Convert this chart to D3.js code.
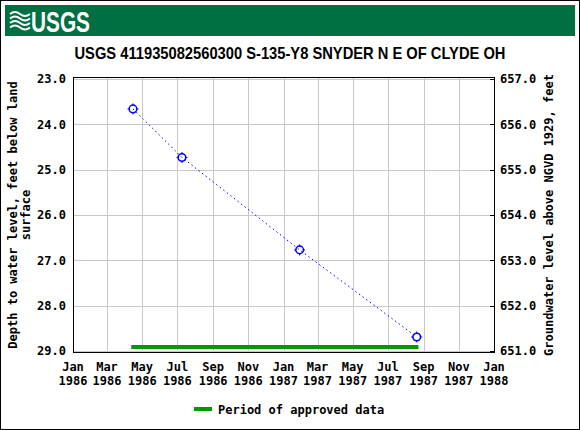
<!DOCTYPE html>
<html><head><meta charset="utf-8">
<script src="https://cdn.jsdelivr.net/npm/d3@7"></script>
<style>body{margin:0;background:#fff}svg{display:block}</style>
</head><body>
<svg id="c" width="580" height="430"></svg>
<script>
const title = "USGS 411935082560300 S-135-Y8 SNYDER N E OF CLYDE OH";
const sampleDates = ["1986-04-15", "1986-07-09", "1987-01-29", "1987-08-20"];
const depthValues = [23.66, 24.73, 26.77, 28.69];
const approvedPeriod = ["1986-04-12", "1987-08-23"];
const depthTicks = [23, 24, 25, 26, 27, 28, 29];
const elevTicks = [657, 656, 655, 654, 653, 652, 651];
const datumOffset = 680;
const xDomain = ["1986-01-01", "1988-01-01"];
const monthNames = ["Jan","Feb","Mar","Apr","May","Jun","Jul","Aug","Sep","Oct","Nov","Dec"];

const svg = d3.select("#c");
const mono = "'DejaVu Sans Mono', monospace";
const parse = d3.utcParse("%Y-%m-%d");

// frame
const L = 73, R = 495, T = 77, B = 353;
const x = d3.scaleUtc().domain(xDomain.map(parse)).range([73, 494]);
const y = d3.scaleLinear().domain([23, 29]).range([79, 351]);
const y2 = d3.scaleLinear().domain([657, 651]).range([79, 351]);

// outer border
svg.append("rect").attr("x",0.5).attr("y",0.5).attr("width",579).attr("height",429)
  .attr("fill","#fff").attr("stroke","#000");

// header
svg.append("rect").attr("x",5).attr("y",5).attr("width",570).attr("height",31).attr("fill","#006f41");
const logo = svg.append("g").attr("fill","none").attr("stroke","#fff").attr("stroke-width",2);
[0,1,2,3].forEach(i=>{
  logo.append("path").attr("d",`M10,${14+i*4.5} q5,-4 10,0 t10,0`);
});
svg.append("text").attr("x",31).attr("y",32).attr("fill","#fff")
  .attr("font-family","'Liberation Sans', Arial, sans-serif").attr("font-weight","bold")
  .attr("font-size",29).attr("textLength",59).attr("lengthAdjust","spacingAndGlyphs").text("USGS");

// title
svg.append("text").attr("x",290).attr("y",59).attr("text-anchor","middle")
  .attr("font-family","'Liberation Sans', Arial, sans-serif").attr("font-weight","bold")
  .attr("font-size",17).attr("textLength",431).attr("lengthAdjust","spacingAndGlyphs").text(title);

// grid
const xTicks = d3.utcMonth.every(2).range(parse(xDomain[0]), d3.utcDay.offset(parse(xDomain[1]),1));
const grid = svg.append("g").attr("stroke","#c8c8c8").attr("stroke-width",1);
xTicks.forEach(d=>{
  const px = Math.round(x(d))+0.5;
  grid.append("line").attr("x1",px).attr("x2",px).attr("y1",T).attr("y2",B);
});
depthTicks.forEach(v=>{
  const py = Math.round(y(v))+0.5;
  grid.append("line").attr("x1",L).attr("x2",R).attr("y1",py).attr("y2",py);
});

// frame
svg.append("rect").attr("x",L+0.5).attr("y",T+0.5).attr("width",R-L-1).attr("height",B-T-1)
  .attr("fill","none").attr("stroke","#000");

// right ticks
elevTicks.forEach(v=>{
  const py = Math.round(y2(v))+0.5;
  svg.append("line").attr("x1",R-5).attr("x2",R).attr("y1",py).attr("y2",py).attr("stroke","#000");
});

// y tick labels
const fmt = d3.format(".1f");
depthTicks.forEach(v=>{
  svg.append("text").attr("x",66).attr("y",y(v)).attr("dy","0.35em").attr("text-anchor","end")
    .attr("font-family",mono).attr("font-weight","bold").attr("font-size",12).text(fmt(v));
});
elevTicks.forEach(v=>{
  svg.append("text").attr("x",500).attr("y",y2(v)).attr("dy","0.35em").attr("text-anchor","start")
    .attr("font-family",mono).attr("font-weight","bold").attr("font-size",12).text(fmt(v));
});

// x tick labels
xTicks.forEach(d=>{
  const t = svg.append("text").attr("x",x(d)).attr("text-anchor","middle")
    .attr("font-family",mono).attr("font-weight","bold").attr("font-size",12);
  t.append("tspan").attr("x",x(d)).attr("y",371).text(monthNames[d.getUTCMonth()]);
  t.append("tspan").attr("x",x(d)).attr("y",385).text(d.getUTCFullYear());
});

// axis titles
const lt = svg.append("text").attr("transform","translate(17,215) rotate(-90)").attr("text-anchor","middle")
  .attr("font-family",mono).attr("font-weight","bold").attr("font-size",12);
lt.append("tspan").attr("x",0).attr("y",0).text("Depth to water level, feet below land");
lt.append("tspan").attr("x",0).attr("y",13).text("surface");
svg.append("text").attr("transform","translate(553,215) rotate(-90)").attr("text-anchor","middle")
  .attr("font-family",mono).attr("font-weight","bold").attr("font-size",12)
  .text("Groundwater level above NGVD 1929, feet");

// approved period bar
svg.append("line").attr("x1",x(parse(approvedPeriod[0]))).attr("x2",x(parse(approvedPeriod[1])))
  .attr("y1",347).attr("y2",347).attr("stroke","#009900").attr("stroke-width",4);

// data
const pts = sampleDates.map((d,i)=>({d:parse(d), v:depthValues[i]}));
svg.append("path").datum(pts)
  .attr("d", d3.line().x(p=>x(p.d)).y(p=>y(p.v)))
  .attr("fill","none").attr("stroke","#0000ff").attr("stroke-width",1).attr("stroke-dasharray","1.5,3");
const mk = svg.append("g").attr("stroke","#0000ff").attr("fill","none").attr("stroke-width",1.5);
pts.forEach(p=>{
  const cx = x(p.d), cy = y(p.v);
  mk.append("circle").attr("cx",cx).attr("cy",cy).attr("r",3.8);
  mk.append("path").attr("stroke-width",1)
    .attr("d",`M${cx},${cy-5.5}V${cy-3.5}M${cx},${cy+3.5}V${cy+5.5}M${cx-5.5},${cy}H${cx-3.5}M${cx+3.5},${cy}H${cx+5.5}`);
});

// legend
svg.append("line").attr("x1",194).attr("x2",212).attr("y1",409).attr("y2",409)
  .attr("stroke","#009900").attr("stroke-width",4);
svg.append("text").attr("x",218).attr("y",410).attr("dy","0.35em")
  .attr("font-family",mono).attr("font-weight","bold").attr("font-size",12).text("Period of approved data");
</script>
</body></html>
